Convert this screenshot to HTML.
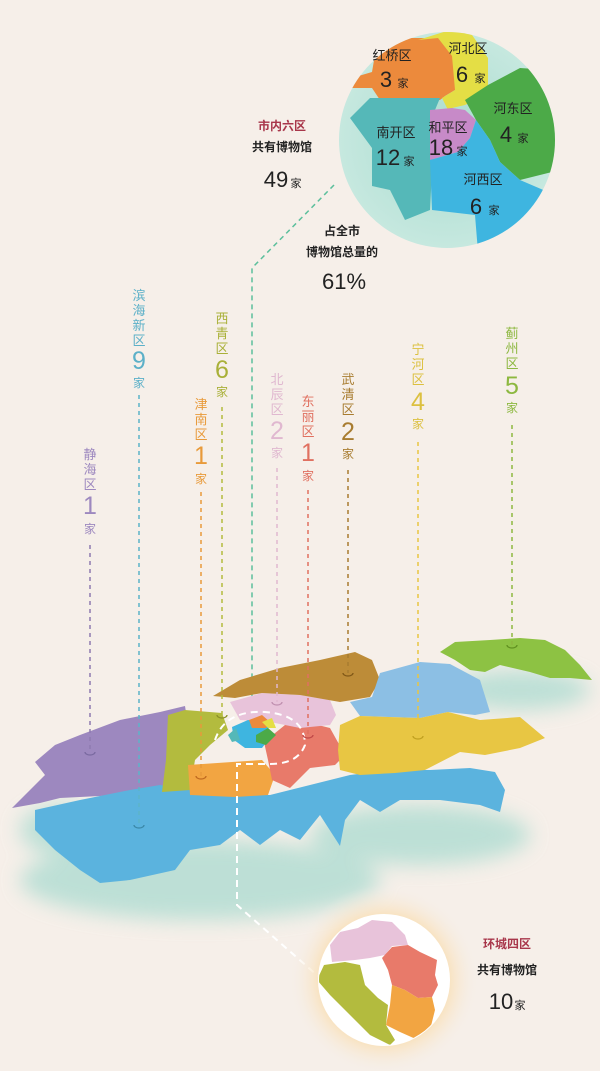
<!DOCTYPE html>
<html><head><meta charset="utf-8"><style>
html,body{margin:0;padding:0;background:#f6efe9;}
svg{display:block;font-family:"Liberation Sans","Noto Sans CJK SC",sans-serif;}
</style></head><body>
<svg width="600" height="1071" viewBox="0 0 600 1071">
<defs>
<radialGradient id="glow" cx="50%" cy="50%" r="50%">
<stop offset="0.6" stop-color="#fbd9a0" stop-opacity="0.9"/><stop offset="1" stop-color="#f6efe9" stop-opacity="0"/></radialGradient>
<radialGradient id="cg" cx="50%" cy="50%" r="50%">
<stop offset="0" stop-color="#a8dccf"/><stop offset="1" stop-color="#c6e8df"/></radialGradient>
<filter id="blur"><feGaussianBlur stdDeviation="10"/></filter>
<clipPath id="c1"><circle cx="447" cy="140" r="108"/></clipPath>
<clipPath id="c2"><circle cx="384" cy="980" r="65"/></clipPath>
</defs>
<rect width="600" height="1071" fill="#f6efe9"/>

<!-- top circle -->
<circle cx="447" cy="140" r="108" fill="url(#cg)"/>
<g clip-path="url(#c1)">
<polygon points="378,37 395,33 408,38 440,38 455,40 455,90 445,96 440,100 380,100 372,88 342,88 345,80 372,72" fill="#ec8a3c"/>
<polygon points="418,40 450,30 470,32 488,58 488,85 475,100 465,105 452,108 448,110 442,98 455,90 452,56 438,38" fill="#e4de45"/>
<polygon points="465,100 488,85 520,68 550,70 556,88 560,170 520,180 500,162 490,140 476,120" fill="#4caa48"/>
<polygon points="350,118 370,98 440,98 435,110 430,210 405,220 390,190 372,186 372,148" fill="#55b8b8"/>
<polygon points="430,110 452,108 465,110 476,120 470,138 458,152 430,160" fill="#c78ac8"/>
<polygon points="430,160 458,152 470,138 476,120 490,140 500,162 520,180 555,195 540,230 478,252 475,215 432,210" fill="#3eb5e0"/>
</g>
<g text-anchor="middle" fill="#222">
<text x="392" y="60" font-size="13">红桥区</text><text x="386" y="87" font-size="22">3</text><text x="403" y="87" font-size="11">家</text>
<text x="468" y="53" font-size="13">河北区</text><text x="462" y="82" font-size="22">6</text><text x="480" y="82" font-size="11">家</text>
<text x="513" y="113" font-size="13">河东区</text><text x="506" y="142" font-size="22">4</text><text x="523" y="142" font-size="11">家</text>
<text x="396" y="137" font-size="13">南开区</text><text x="388" y="165" font-size="22">12</text><text x="409" y="165" font-size="11">家</text>
<text x="448" y="132" font-size="13">和平区</text><text x="441" y="155" font-size="22">18</text><text x="462" y="155" font-size="11">家</text>
<text x="483" y="184" font-size="13">河西区</text><text x="476" y="214" font-size="22">6</text><text x="494" y="214" font-size="11">家</text>
</g>
<g text-anchor="middle">
<text x="282" y="130" font-size="12" fill="#a8364a" font-weight="bold">市内六区</text>
<text x="282" y="151" font-size="12" fill="#222" font-weight="bold">共有博物馆</text>
<text x="276" y="187" font-size="22" fill="#222">49</text><text x="296" y="187" font-size="11" fill="#222">家</text>
<text x="342" y="235" font-size="12" fill="#222" font-weight="bold">占全市</text>
<text x="342" y="256" font-size="12" fill="#222" font-weight="bold">博物馆总量的</text>
<text x="344" y="289" font-size="22" fill="#222">61%</text>
</g>
<polyline points="334,185 252,268 252,712" fill="none" stroke="#5cbf9c" stroke-width="1.5" stroke-dasharray="5,4"/>

<!-- map shadow -->
<g filter="url(#blur)" opacity="0.65">
<ellipse cx="200" cy="880" rx="180" ry="40" fill="#9fd8cc"/>
<ellipse cx="420" cy="835" rx="110" ry="30" fill="#9fd8cc"/>
<ellipse cx="520" cy="690" rx="70" ry="20" fill="#9fd8cc"/>
<ellipse cx="60" cy="830" rx="40" ry="25" fill="#9fd8cc"/>
</g>
<!-- map regions -->
<polygon points="55,745 80,735 120,720 160,712 185,706 188,725 185,780 150,790 120,795 60,798 40,803 12,808 30,790 45,775 35,762" fill="#9d88bf"/>
<polygon points="35,810 80,800 130,790 160,785 190,790 230,795 270,795 290,790 330,780 350,775 390,770 430,770 470,768 495,772 505,790 500,812 480,805 440,800 400,800 380,812 360,800 345,820 340,846 320,815 300,840 280,830 260,845 240,830 220,845 190,850 175,870 130,880 100,883 80,870 55,850 35,830" fill="#5bb3de"/>
<polygon points="168,715 185,710 222,713 228,730 210,745 195,760 190,790 162,792 166,760" fill="#b3bb3e"/>
<polygon points="188,765 232,762 262,760 275,775 268,795 235,797 190,795" fill="#f2a542"/>
<polygon points="264,742 285,725 310,723 330,728 345,755 335,765 310,768 290,788 272,780 268,760" fill="#e87a6a"/>
<polygon points="230,702 262,693 300,695 330,700 336,715 330,725 300,728 270,722 240,720" fill="#e8c3da"/>
<polygon points="213,696 240,680 280,668 320,660 355,652 372,660 380,680 370,697 340,702 300,695 262,693 235,698" fill="#bd8c38"/>
<polygon points="380,673 420,662 450,664 480,680 490,712 475,715 448,712 420,718 360,716 350,702 372,697" fill="#8cbfe4"/>
<polygon points="340,725 360,716 420,718 448,712 480,720 520,717 545,738 520,748 485,755 460,752 425,770 395,773 360,775 340,770 338,750" fill="#e8c643"/>
<polygon points="440,652 455,642 490,640 520,638 545,640 565,650 580,665 592,680 570,678 550,678 530,672 500,665 485,672 470,670 455,660" fill="#8dc243"/>
<!-- inner city -->
<polygon points="232,727 248,720 265,722 272,735 262,748 245,748 234,740" fill="#3eb5e0"/>
<polygon points="256,735 268,728 276,735 266,745 256,742" fill="#4caa48"/>
<polygon points="249,720 262,715 270,722 266,728 252,728" fill="#ec8a3c"/>
<polygon points="262,722 272,718 276,728 268,728" fill="#e4de45"/>
<polygon points="228,735 236,728 240,740 232,742" fill="#55b8b8"/>
<!-- dashed white ring -->
<path d="M215,740 Q225,710 265,712 Q305,715 305,745 Q298,764 270,764 L237,764 L237,905 L318,976" fill="none" stroke="#fff" stroke-width="2" stroke-dasharray="7,5"/>

<!-- vertical dashed labels -->
<g stroke-width="1.5" stroke-dasharray="4,4" fill="none">
<line x1="139" y1="395" x2="139" y2="825" stroke="#5cb4c8"/>
<line x1="90" y1="545" x2="90" y2="752" stroke="#8e7ab0"/>
<line x1="222" y1="407" x2="222" y2="715" stroke="#b3bb3e"/>
<line x1="201" y1="492" x2="201" y2="776" stroke="#e89a3a"/>
<line x1="277" y1="468" x2="277" y2="702" stroke="#e0b8d0"/>
<line x1="308" y1="490" x2="308" y2="735" stroke="#e07060"/>
<line x1="348" y1="470" x2="348" y2="673" stroke="#a87c30"/>
<line x1="418" y1="442" x2="418" y2="736" stroke="#e8c643"/>
<line x1="512" y1="425" x2="512" y2="645" stroke="#8db840"/>
</g>
<g fill="none" stroke-width="1.3">
<path d="M85,752 a5,3 0 0 0 10,0" stroke="#7a6aa0"/>
<path d="M134,825 a5,3 0 0 0 10,0" stroke="#3a88a8"/>
<path d="M217,715 a5,3 0 0 0 10,0" stroke="#8a9028"/>
<path d="M196,776 a5,3 0 0 0 10,0" stroke="#c06a20"/>
<path d="M272,702 a5,3 0 0 0 10,0" stroke="#c090b0"/>
<path d="M303,735 a5,3 0 0 0 10,0" stroke="#c04848"/>
<path d="M343,673 a5,3 0 0 0 10,0" stroke="#805818"/>
<path d="M413,736 a5,3 0 0 0 10,0" stroke="#c0a020"/>
<path d="M507,645 a5,3 0 0 0 10,0" stroke="#609020"/>
</g>
<g text-anchor="middle">
<g fill="#5cb0c8"><text x="139" y="300" font-size="13">滨</text><text x="139" y="315" font-size="13">海</text><text x="139" y="330" font-size="13">新</text><text x="139" y="345" font-size="13">区</text><text x="139" y="369" font-size="25">9</text><text x="139" y="387" font-size="12">家</text></g>
<g fill="#9d88bf"><text x="90" y="459" font-size="13">静</text><text x="90" y="474" font-size="13">海</text><text x="90" y="489" font-size="13">区</text><text x="90" y="514" font-size="25">1</text><text x="90" y="533" font-size="12">家</text></g>
<g fill="#a9b038"><text x="222" y="323" font-size="13">西</text><text x="222" y="338" font-size="13">青</text><text x="222" y="353" font-size="13">区</text><text x="222" y="378" font-size="25">6</text><text x="222" y="396" font-size="12">家</text></g>
<g fill="#e89a3a"><text x="201" y="409" font-size="13">津</text><text x="201" y="424" font-size="13">南</text><text x="201" y="439" font-size="13">区</text><text x="201" y="464" font-size="25">1</text><text x="201" y="483" font-size="12">家</text></g>
<g fill="#e0b8d0"><text x="277" y="384" font-size="13">北</text><text x="277" y="399" font-size="13">辰</text><text x="277" y="414" font-size="13">区</text><text x="277" y="439" font-size="25">2</text><text x="277" y="457" font-size="12">家</text></g>
<g fill="#e07060"><text x="308" y="406" font-size="13">东</text><text x="308" y="421" font-size="13">丽</text><text x="308" y="436" font-size="13">区</text><text x="308" y="461" font-size="25">1</text><text x="308" y="480" font-size="12">家</text></g>
<g fill="#a87c30"><text x="348" y="384" font-size="13">武</text><text x="348" y="399" font-size="13">清</text><text x="348" y="414" font-size="13">区</text><text x="348" y="440" font-size="25">2</text><text x="348" y="458" font-size="12">家</text></g>
<g fill="#dcc040"><text x="418" y="354" font-size="13">宁</text><text x="418" y="369" font-size="13">河</text><text x="418" y="384" font-size="13">区</text><text x="418" y="410" font-size="25">4</text><text x="418" y="428" font-size="12">家</text></g>
<g fill="#8db840"><text x="512" y="338" font-size="13">蓟</text><text x="512" y="353" font-size="13">州</text><text x="512" y="368" font-size="13">区</text><text x="512" y="394" font-size="25">5</text><text x="512" y="412" font-size="12">家</text></g>
</g>

<!-- bottom circle -->
<circle cx="384" cy="980" r="95" fill="url(#glow)"/>
<circle cx="384" cy="980" r="66" fill="#fff"/>
<g clip-path="url(#c2)">
<polygon points="330,945 340,932 358,928 372,920 392,922 405,935 408,945 392,946 385,955 370,958 355,960 332,962" fill="#e8c3da"/>
<polygon points="382,958 392,947 408,945 420,952 437,960 435,975 438,985 432,997 418,998 405,990 392,985 388,970" fill="#e87a6a"/>
<polygon points="392,985 405,990 418,998 432,997 435,1010 430,1030 418,1040 400,1032 386,1025 390,1005" fill="#f2a542"/>
<polygon points="317,980 324,965 345,962 360,965 365,985 378,998 388,1005 386,1025 395,1040 390,1045 370,1035 350,1015 330,995" fill="#b3bb3e"/>
</g>
<g text-anchor="middle">
<text x="507" y="948" font-size="12" fill="#a8364a" font-weight="bold">环城四区</text>
<text x="507" y="974" font-size="12" fill="#222" font-weight="bold">共有博物馆</text>
<text x="501" y="1009" font-size="22" fill="#222">10</text><text x="520" y="1009" font-size="11" fill="#222">家</text>
</g>
</svg>
</body></html>
